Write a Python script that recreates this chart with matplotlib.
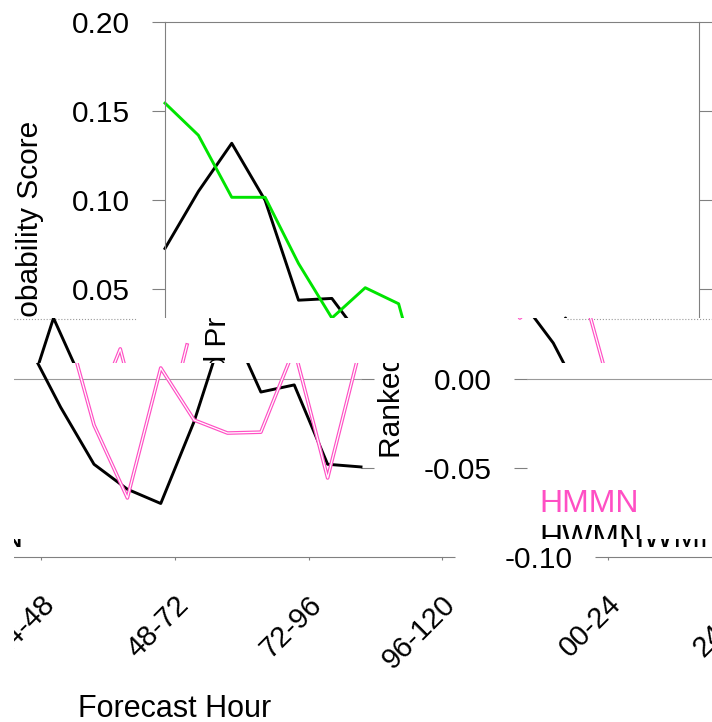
import numpy as np
import matplotlib
matplotlib.use('Agg')
import matplotlib.pyplot as plt
from matplotlib.transforms import Bbox, TransformedBbox, ScaledTranslation
from matplotlib.ticker import FormatStrFormatter

plt.rcParams['font.family'] = 'Liberation Sans'
plt.rcParams['axes.unicode_minus'] = False

# 6-hourly steps, labelled per day
steps = np.arange(17)
day_ticks = [0, 4, 8, 12, 16]
day_labels = ['00-24', '24-48', '48-72', '72-96', '96-120']
y_ticks = [-0.10, -0.05, 0.00, 0.05, 0.10, 0.15, 0.20]

hwmn = [0.073, 0.105, 0.132, 0.100, 0.044, 0.045, 0.020, -0.016, -0.048,
        -0.062, -0.070, -0.024, 0.034, -0.0075, -0.0035, -0.048, -0.0495]
hmmn = [0.1545, 0.1365, 0.1017, 0.1017, 0.0646, 0.034, 0.051, 0.042, -0.026,
        -0.0669, 0.006, -0.0232, -0.0305, -0.030, 0.0167, -0.0557, 0.0189]

W, H = 712, 722
BOX = (165, 22, 699, 557)   # plot box in px: left, top, right, bottom
WRAP = 700
GREY = '#808080'

# the picture is broken into row bands, each shifted sideways (and wrapped)
bands = [(0, 317.5, 0), (317.5, 363, 188), (363, 539, 362), (539, 722, 443)]

fig = plt.figure(figsize=(W / 100, H / 100), dpi=100)
fig.patch.set_facecolor('white')


def px_rect(x0, y0, x1, y1):
    return [x0 / W, 1 - y1 / H, (x1 - x0) / W, (y1 - y0) / H]


def draw_panel(ax, broken, rule):
    ax.patch.set_visible(False)
    green = '#ff4fc4' if broken else '#00e400'
    ax.axhline(0, color='#9a9a9a', lw=0.8)
    if rule:
        ax.axhline(0.0337, xmin=6.4 / 16, xmax=14.5 / 16, color='#9a9a9a', lw=0.8, ls=':')
    ln_k, = ax.plot(steps, hwmn, color='black', lw=2.1)
    ln_g, = ax.plot(steps, hmmn, color=green, lw=2.6 if broken else 2.1)
    if broken:
        ax.plot(steps, hmmn, color='white', lw=0.9)

    ax.set_xlim(0, 16)
    ax.set_ylim(-0.1, 0.2)
    for side, sp in ax.spines.items():
        sp.set_color(GREY)
        sp.set_linewidth(0.8)
        if broken and side in ('left', 'right'):
            sp.set_visible(False)

    ax.tick_params(axis='y', direction='out', length=9.4, width=0.8, color=GREY,
                   pad=15.8, labelsize=21.5, left=True, right=True)
    ax.tick_params(axis='x', direction='out', length=2, width=0.8, color=GREY,
                   pad=22, labelsize=21, top=False)
    ax.set_yticks(y_ticks)
    ax.yaxis.set_major_formatter(FormatStrFormatter('%.2f'))
    ax.set_xticks(day_ticks, day_labels, rotation=45, ha='right')
    shift = ScaledTranslation(19 / 100, 0, fig.dpi_scale_trans)
    for lab in ax.get_xticklabels():
        lab.set_transform(lab.get_transform() + shift)

    ax.set_ylabel('Ranked Probability Score', fontsize=21.5)
    ax.yaxis.set_label_coords((38 - 165) / 534, 0.5)
    ax.yaxis.label.set_va('baseline')
    ax.set_xlabel('Forecast Hour', fontsize=22)
    ax.xaxis.set_label_coords(0.5, (557 - 717) / 535)
    ax.xaxis.label.set_va('baseline')

    leg = ax.legend([ln_g, ln_k], ['HMMN', 'HWMN'], loc='lower left',
                    bbox_to_anchor=((177 - 165) / 534, 0.006), frameon=False,
                    handlelength=0, handletextpad=0, borderpad=0, borderaxespad=0,
                    labelspacing=0.15, fontsize=23)
    for t, c in zip(leg.get_texts(), [green, 'black']):
        t.set_color(c)


panels = []
for i, (top, bot, shift) in enumerate(bands):
    broken = shift != 0
    shifts = [shift, shift - WRAP] if broken else [0]
    left = 14 if broken else 0
    clip = TransformedBbox(Bbox.from_extents(left / W, 1 - bot / H, 1, 1 - top / H),
                           fig.transFigure)
    for s in shifts:
        ax = fig.add_axes(px_rect(BOX[0] + s, BOX[1], BOX[2] + s, BOX[3]))
        draw_panel(ax, broken, rule=(i == 1))
        panels.append((ax, clip))

fig.canvas.draw()
for ax, clip in panels:
    for art in ax.findobj():
        art.set_clip_box(clip)
        art.set_clip_on(True)

fig.savefig('out.png', dpi=100)
